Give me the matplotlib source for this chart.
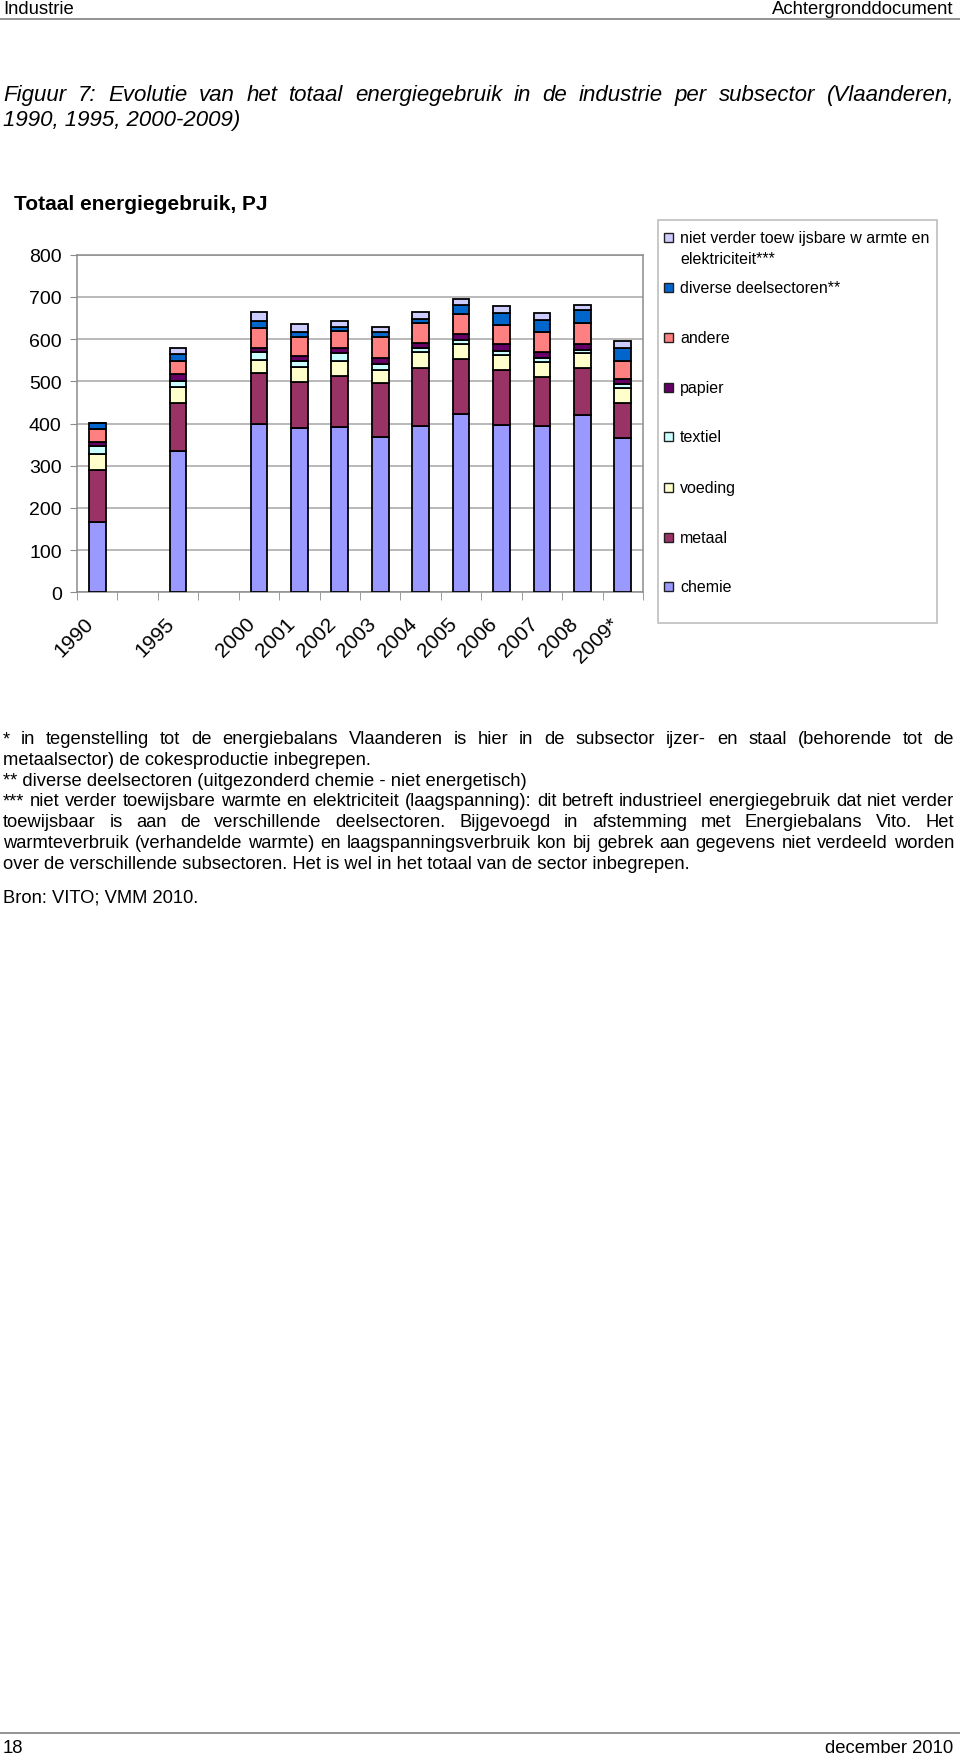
import matplotlib
matplotlib.use("Agg")
import matplotlib.pyplot as plt
import numpy as np
from matplotlib.patches import Rectangle
from matplotlib.lines import Line2D
from matplotlib.transforms import ScaledTranslation

plt.rcParams['font.family'] = ['Liberation Sans', 'DejaVu Sans']

# Data (PJ)
categories = ["1990", "", "1995", "", "2000", "2001", "2002", "2003", "2004",
              "2005", "2006", "2007", "2008", "2009*"]
chemie = [167, 336, 398, 390, 391, 369, 394, 423, 397, 394, 420, 366]
metaal = [123, 112, 122, 108, 121, 127, 137, 129, 129, 116, 111, 82]
voeding = [38, 39, 31, 36, 36, 31, 38, 36, 36, 35, 35, 36]
textiel = [18, 14, 18, 13, 20, 14, 10, 11, 10, 10, 7, 9]
papier = [10, 16, 11, 12, 10, 15, 12, 14, 16, 14, 15, 12]
andere = [31, 31, 46, 46, 41, 49, 46, 46, 46, 47, 49, 43]
diverse = [14, 17, 16, 13, 10, 13, 11, 22, 27, 30, 32, 30]
niet_toewijsbaar = [0, 13, 22, 17, 13, 10, 16, 15, 17, 15, 12, 18]

series = [
    ("chemie", chemie, "#9999FF"),
    ("metaal", metaal, "#993366"),
    ("voeding", voeding, "#FFFFCC"),
    ("textiel", textiel, "#CCFFFF"),
    ("papier", papier, "#660066"),
    ("andere", andere, "#FF8080"),
    ("diverse deelsectoren**", diverse, "#0066CC"),
    ("niet verder toew ijsbare w armte en\nelektriciteit***", niet_toewijsbaar, "#CCCCFF"),
]

W, H = 960, 1758
fig = plt.figure(figsize=(W / 100, H / 100), dpi=100)


def fx(x):
    return x / W


def fy(y):
    return 1 - y / H


# ---- page header / footer ----
fig.text(fx(3), fy(14.5), "Industrie", fontsize=13.3, va="baseline", ha="left")
fig.text(fx(953), fy(14.5), "Achtergronddocument", fontsize=13.3, va="baseline", ha="right")
fig.add_artist(Line2D([0, 1], [fy(20)] * 2, transform=fig.transFigure, color="#808080", lw=1.2))
fig.add_artist(Line2D([0, 1], [fy(1734)] * 2, transform=fig.transFigure, color="#808080", lw=1.2))
fig.text(fx(3), fy(1753), "18", fontsize=13.3, va="baseline", ha="left")
fig.text(fx(953), fy(1753), "december 2010", fontsize=13.3, va="baseline", ha="right")

renderer = fig.canvas.get_renderer()


def justify(line, y, fontsize, style="normal", x0=3, x1=954):
    # spread the words of one line over the full text width, on a common baseline
    words = line.split()
    objs = [fig.text(0, fy(y), w, fontsize=fontsize, style=style, va="baseline") for w in words]
    widths = [o.get_window_extent(renderer).width for o in objs]
    gap = (x1 - x0 - sum(widths)) / (len(words) - 1)
    x = x0
    for o, w in zip(objs, widths):
        o.set_x(fx(x))
        x += w + gap


# ---- figure title ----
justify("Figuur 7: Evolutie van het totaal energiegebruik in de industrie per subsector (Vlaanderen,",
        101, 16, style="italic")
fig.text(fx(3), fy(126), "1990, 1995, 2000-2009)", fontsize=16, style="italic", va="baseline")

fig.text(fx(14), fy(209.5), "Totaal energiegebruik, PJ", fontsize=15, fontweight="bold", va="baseline")

# ---- chart ----
ax = fig.add_axes([fx(77), fy(593.3), fx(643) - fx(77), (593.3 - 255.7) / H])
pos = [i for i, c in enumerate(categories) if c]
labels = [c for c in categories if c]

bottom = np.zeros(len(pos))
for name, vals, col in series:
    ax.bar(pos, vals, width=0.41, bottom=bottom, color=col, edgecolor="black", linewidth=1.3, zorder=3)
    bottom += np.array(vals)

ax.set_xlim(-0.5, len(categories) - 0.5)
ax.set_ylim(0, 800)
ax.set_yticks(np.arange(0, 801, 100))
ax.yaxis.grid(True, color="#a6a6a6", lw=1.1, zorder=0)
for s in ax.spines.values():
    s.set_color("#8c8c8c")
    s.set_linewidth(1.1)
ax.tick_params(axis="y", length=5, color="#8c8c8c", labelsize=14, pad=6)

ax.set_xticks(pos)
ax.set_xticklabels(labels, rotation=45, fontsize=15)
ax.set_xticks(np.arange(-0.5, len(categories), 1), minor=True)
ax.tick_params(axis="x", which="major", length=0, pad=20)
ax.tick_params(axis="x", which="minor", length=6, color="#8c8c8c")
offset = ScaledTranslation(-7 / 100, 0, fig.dpi_scale_trans)
for lab in ax.get_xticklabels():
    lab.set_ha("right")
    lab.set_va("center")
    lab.set_rotation_mode("anchor")
    lab.set_transform(lab.get_transform() + offset)

# ---- legend box (drawn by hand to follow the original spacing) ----
fig.add_artist(Rectangle((fx(658), fy(623.5)), fx(936.5) - fx(658), (623.5 - 221) / H,
                         transform=fig.transFigure, facecolor="white", edgecolor="#bfbfbf", lw=1.2))
leg_y = [238.3, 288.3, 338.3, 388.3, 437.7, 488.3, 538.3, 587.7]
for (name, vals, col), y in zip(series[::-1], leg_y):
    fig.add_artist(Rectangle((fx(663.5), fy(y + 4.5)), fx(9), 9 / H, transform=fig.transFigure,
                             facecolor=col, edgecolor="#202020", lw=1.0))
    for k, part in enumerate(name.split("\n")):
        fig.text(fx(680), fy(y + 21 * k), part, fontsize=11.5, va="center")

# ---- notes ----
fs = 13.25
justify("* in tegenstelling tot de energiebalans Vlaanderen is hier in de subsector ijzer- en staal (behorende tot de",
        744, fs)
fig.text(fx(3), fy(764.8), "metaalsector) de cokesproductie inbegrepen.", fontsize=fs, va="baseline")
fig.text(fx(3), fy(785.6), "** diverse deelsectoren (uitgezonderd chemie - niet energetisch)", fontsize=fs, va="baseline")
justify("*** niet verder toewijsbare warmte en elektriciteit (laagspanning): dit betreft industrieel energiegebruik dat niet verder",
        806.4, fs)
justify("toewijsbaar is aan de verschillende deelsectoren. Bijgevoegd in afstemming met Energiebalans Vito. Het",
        827.2, fs)
justify("warmteverbruik (verhandelde warmte) en laagspanningsverbruik kon bij gebrek aan gegevens niet verdeeld worden",
        848, fs)
fig.text(fx(3), fy(868.8), "over de verschillende subsectoren. Het is wel in het totaal van de sector inbegrepen.",
         fontsize=fs, va="baseline")
fig.text(fx(3), fy(903), "Bron: VITO; VMM 2010.", fontsize=fs, va="baseline")

fig.savefig("out.png", dpi=100)
